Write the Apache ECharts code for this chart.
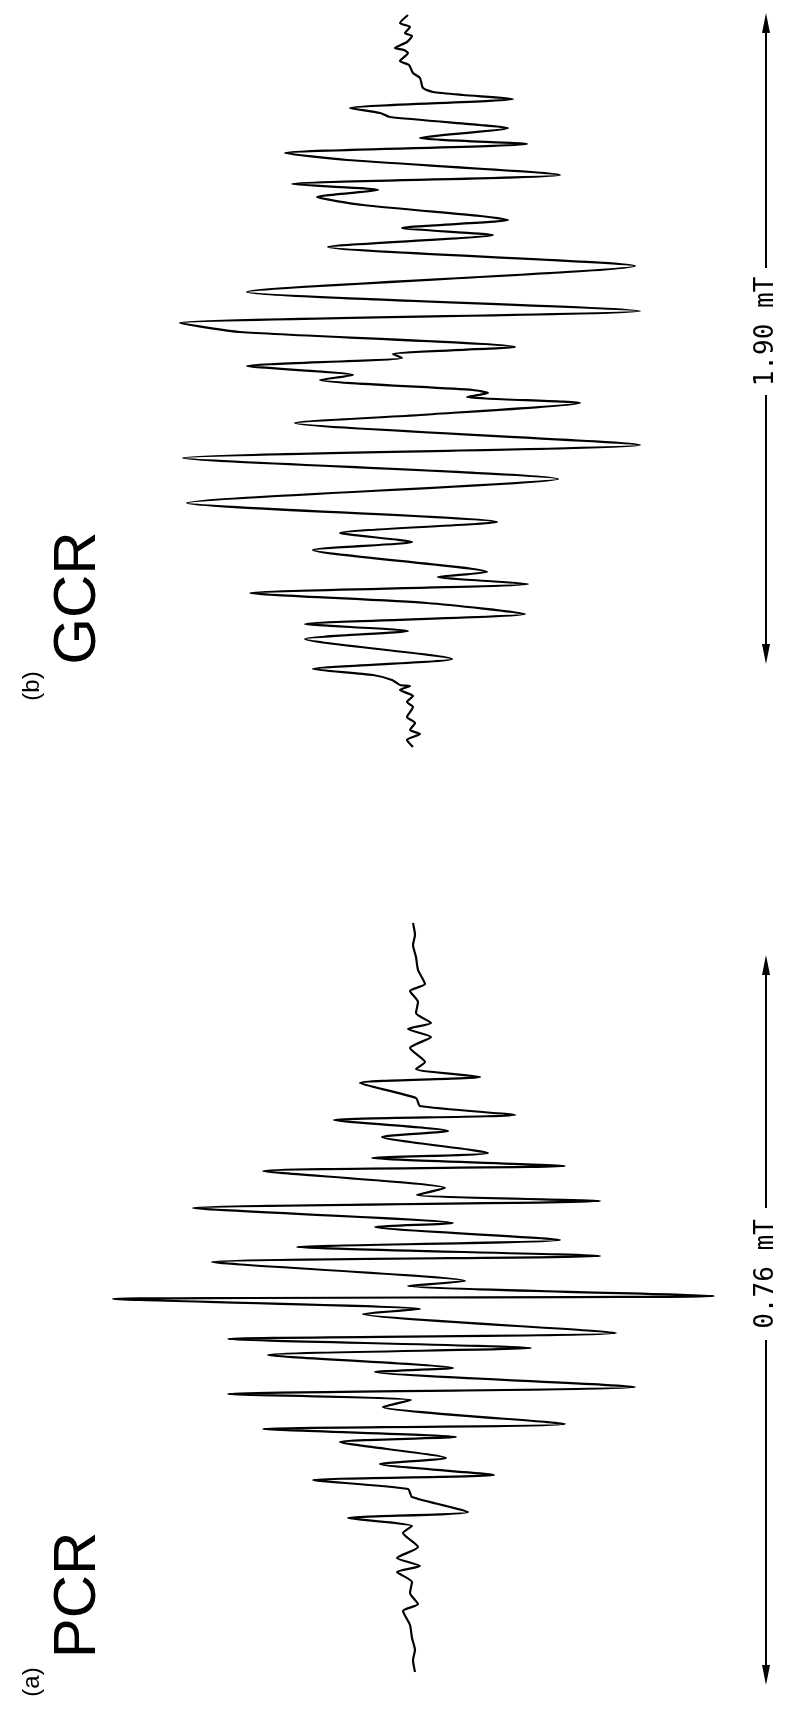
<!DOCTYPE html>
<html>
<head>
<meta charset="utf-8">
<script src="https://cdn.jsdelivr.net/npm/echarts@6/dist/echarts.min.js"></script>
<style>
  html, body { margin: 0; padding: 0; background: #fff; }
  #main { width: 790px; height: 1709px; }
</style>
</head>
<body>
<div id="main"></div>
<script>
/* ---------- (b) GCR : field position (arb. units, top -> bottom) & signal ---------- */
const gcrField = [0, 8, 12, 18, 21, 27, 33, 35, 38, 46, 50, 58, 63, 73, 77, 80, 84, 93, 98, 102,
  110, 113, 123, 129, 138, 145, 160, 169, 175, 182, 190, 201, 205, 213, 220, 232, 251, 277, 296, 308,
  317, 332, 339, 343, 351, 360, 365, 375, 378, 382, 388, 400, 408, 430, 443, 464, 488, 507, 518, 527,
  535, 557, 562, 569, 578, 588, 599, 609, 616, 624, 644, 654, 660, 665, 670, 671, 675, 681, 687, 692,
  702, 708, 715, 719, 725, 732];
const gcrSignal = [0, -8, 2, -3, 4, -1, -13, -4, 0, -8, 1, 5, 12, 15, 25, 55, 105, -58, -28, -18,
  72, 100, 12, 119, -123, -61, 152, -116, -30, -91, -45, 72, 100, -6, 85, -80, 227, -161, 232, -228,
  -168, 107, -15, -6, -161, -55, -88, 65, 80, 59, 172, 12, -113, 232, -225, 150, -221, 89, -68, 4,
  -95, 79, 30, 120, -158, 19, 117, -103, 0, -103, 44, -95, -35, -16, -8, 2, -8, 5, -1, 5,
  -1, 7, 2, 12, -1, 5];

/* ---------- (a) PCR ---------- */
const pcrField = [0, 12, 22, 34, 47, 61, 68, 79, 90, 100, 106, 114, 125, 139, 146, 154, 160, 175, 183, 192,
  197, 208, 214, 230, 235, 243, 248, 265, 272, 278, 285, 300, 304, 317, 324, 333, 339, 358, 363, 373,
  376, 386, 391, 410, 416, 425, 432, 445, 449, 464, 471, 477, 484, 501, 506, 514, 519, 535, 541, 552,
  557, 566, 574, 589, 595, 603, 610, 624, 635, 643, 649, 659, 670, 681, 688, 702, 715, 727, 737, 749];
const pcrSignal = [-1, 1, -1, 2, 4, 11, -4, 4, 2, 17, -6, 17, -4, 11, 2, 66, -54, 2, 6, 101,
  -80, 34, -32, 74, -42, 151, -151, 31, 3, 186, -221, 39, -39, 146, -117, 186, -202, 51, -6, 300,
  -301, 6, -51, 202, -186, 117, -146, 39, -39, 221, -186, -3, -31, 151, -151, 42, -74, 32, -34, 80,
  -101, -6, -2, 54, -66, -2, -11, 4, -17, 6, -17, -2, -4, 4, -11, -4, -2, 1, -1, 1];

const gcrData = gcrField.map((f, i) => [gcrSignal[i], f]);
const pcrData = pcrField.map((f, i) => [pcrSignal[i], f]);

/* ---------- scale-bar helper (arrow up / label / arrow down) ---------- */
function scaleBar(x, top, bottom, gapTop, gapBottom, label) {
  const head = 20, half = 4;
  return [
    { type: 'line', shape: { x1: x, y1: top + head, x2: x, y2: gapTop }, style: { stroke: '#000', lineWidth: 2 } },
    { type: 'line', shape: { x1: x, y1: gapBottom, x2: x, y2: bottom - head }, style: { stroke: '#000', lineWidth: 2 } },
    { type: 'polygon', shape: { points: [[x, top], [x - half, top + head], [x + half, top + head]] }, style: { fill: '#000' } },
    { type: 'polygon', shape: { points: [[x, bottom], [x - half, bottom - head], [x + half, bottom - head]] }, style: { fill: '#000' } },
    {
      type: 'text', x: x, y: (gapTop + gapBottom) / 2, rotation: Math.PI / 2,
      style: { text: label, font: '26px "DejaVu Sans Mono"', fill: '#000', textAlign: 'center', textVerticalAlign: 'middle' }
    }
  ];
}

function rotLabel(x, y, txt, size) {
  return {
    type: 'text', x: x, y: y, rotation: Math.PI / 2,
    style: { text: txt, font: size + 'px "Liberation Sans"', fill: '#000', textAlign: 'center', textVerticalAlign: 'middle' }
  };
}

const chart = echarts.init(document.getElementById('main'));
chart.setOption({
  backgroundColor: '#fff',
  animation: false,
  grid: [
    { left: 168, top: 15, width: 480, height: 740 },
    { left: 104, top: 923, width: 620, height: 760 }
  ],
  xAxis: [
    { type: 'value', gridIndex: 0, min: -240, max: 240, show: false },
    { type: 'value', gridIndex: 1, min: -310, max: 310, show: false }
  ],
  yAxis: [
    { type: 'value', gridIndex: 0, min: 0, max: 740, inverse: true, show: false },
    { type: 'value', gridIndex: 1, min: 0, max: 760, inverse: true, show: false }
  ],
  series: [
    {
      name: 'GCR', type: 'line', xAxisIndex: 0, yAxisIndex: 0, data: gcrData, smooth: 0.2,
      showSymbol: false, clip: false, lineStyle: { color: '#000', width: 2.2 }
    },
    {
      name: 'PCR', type: 'line', xAxisIndex: 1, yAxisIndex: 1, data: pcrData, smooth: 0.2,
      showSymbol: false, clip: false, lineStyle: { color: '#000', width: 2.2 }
    }
  ],
  graphic: [
    ...scaleBar(766, 13, 664, 268, 395, '1.90 mT'),
    ...scaleBar(766, 955, 1685, 1208, 1340, '0.76 mT'),
    rotLabel(78, 598, 'GCR', 60),
    rotLabel(32, 686, '(b)', 24),
    rotLabel(78, 1595, 'PCR', 60),
    rotLabel(32, 1682, '(a)', 24)
  ]
});
</script>
</body>
</html>
